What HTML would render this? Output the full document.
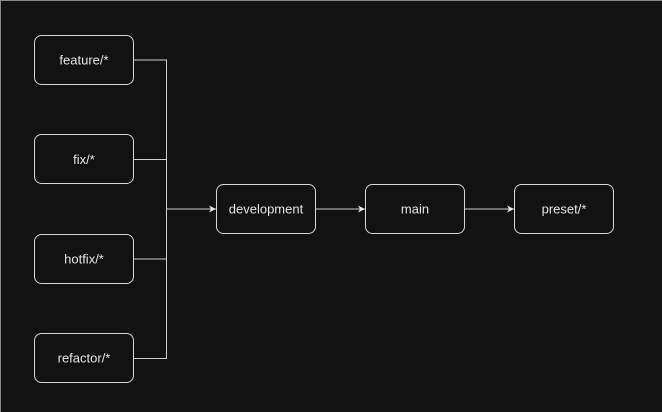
<!DOCTYPE html>
<html><head><style>
html,body{margin:0;padding:0;background:#121212;}
svg{display:block;}
text{font-family:"Liberation Sans",sans-serif;font-size:13px;fill:#e6e6e6;text-anchor:middle;dominant-baseline:central;}
</style></head><body>
<svg width="662" height="412" viewBox="0 0 662 412">
<rect x="0" y="0" width="662" height="412" fill="#121212"/>
<line x1="0" y1="0.5" x2="662" y2="0.5" stroke="#888" stroke-width="1"/>
<line x1="0.5" y1="0" x2="0.5" y2="412" stroke="#888" stroke-width="1"/>
<defs><marker id="a" markerWidth="8" markerHeight="8" refX="7" refY="4" orient="auto" markerUnits="userSpaceOnUse"><path d="M0,0.5 L7,4 L0,7.5 L2,4 Z" fill="#e6e6e6"/></marker></defs>
<g fill="none" stroke="#cfcfcf" stroke-width="1">
<path d="M133.5 60H166.5V358.5H133.5M133.5 159.5H166.5M133.5 259H166.5"/>
<path d="M166.5 209H216" marker-end="url(#a)"/>
<path d="M315.5 209H365" marker-end="url(#a)"/>
<path d="M464.5 209H514" marker-end="url(#a)"/>
</g>
<g fill="#121212" stroke="#d8d8d8" stroke-width="1">
<rect x="34.5" y="35.5" width="99" height="49" rx="7"/>
<rect x="34.5" y="134.5" width="99" height="49" rx="7"/>
<rect x="34.5" y="234.5" width="99" height="49" rx="7"/>
<rect x="34.5" y="333.5" width="99" height="49" rx="7"/>
<rect x="216.5" y="184.5" width="99" height="49" rx="7"/>
<rect x="365.5" y="184.5" width="99" height="49" rx="7"/>
<rect x="514.5" y="184.5" width="99" height="49" rx="7"/>
</g>
<text x="84" y="60">feature/*</text>
<text x="84" y="159.5">fix/*</text>
<text x="84" y="259">hotfix/*</text>
<text x="84" y="358">refactor/*</text>
<text x="266" y="209">development</text>
<text x="415" y="209">main</text>
<text x="564" y="209">preset/*</text>
</svg>
</body></html>
